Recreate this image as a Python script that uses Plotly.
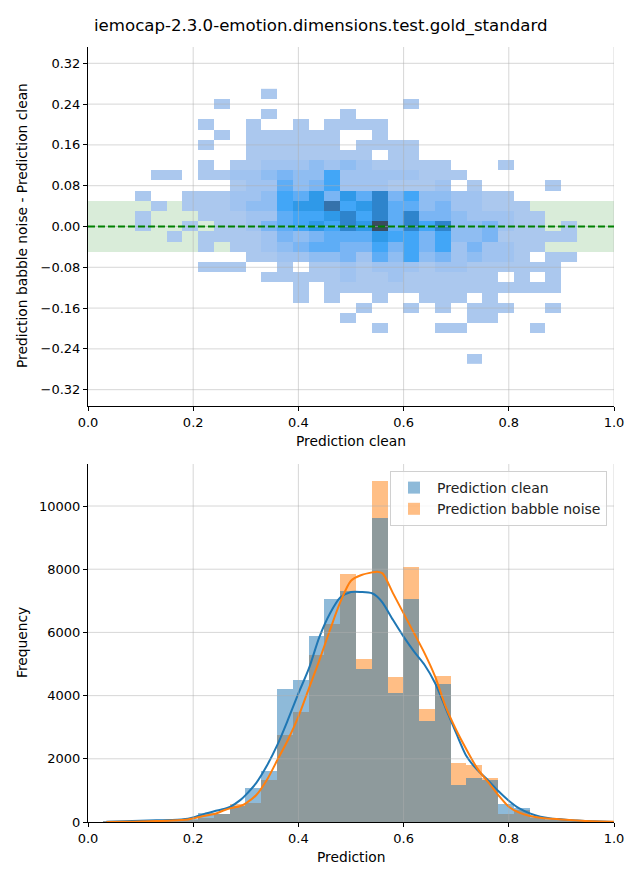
import plotly.graph_objects as go

TITLE = "iemocap-2.3.0-emotion.dimensions.test.gold_standard"

# ---------------- top panel: 2D histogram (difference vs clean) ----------------
hist2d_x_first_edge = 0.0894
hist2d_x_bin_width = 0.03
hist2d_y_centers = [0.26, 0.24, 0.22, 0.20, 0.18, 0.16, 0.14, 0.12, 0.10, 0.08, 0.06, 0.04, 0.02, 0.00,
                    -0.02, -0.04, -0.06, -0.08, -0.10, -0.12, -0.14, -0.16, -0.18, -0.20, -0.22, -0.24, -0.26]
# relative cell counts (0 = empty), columns = clean-prediction bins
hist2d_counts = [
    [0,0,0,0,0,0,0,0,1,0,0,0,0,0,0,0,0,0,0,0,0,0,0,0,0,0,0,0],
    [0,0,0,0,0,1,0,0,0,0,0,0,0,0,0,0,0,1,0,0,0,0,0,0,0,0,0,0],
    [0,0,0,0,0,0,0,0,1,0,0,0,0,1,0,0,0,0,0,0,0,0,0,0,0,0,0,0],
    [0,0,0,0,1,0,0,1,0,0,1,0,1,1,1,1,0,0,0,0,0,0,0,0,0,0,0,0],
    [0,0,0,0,0,1,0,1,1,1,1,1,1,0,0,1,0,0,0,0,0,0,0,0,0,0,0,0],
    [0,0,0,0,1,0,0,1,1,1,1,1,1,0,1,1,1,1,0,0,0,0,0,0,0,0,0,0],
    [0,0,0,0,0,0,0,1,1,1,1,1,1,1,1,0,1,1,0,0,0,0,0,0,0,0,0,0],
    [0,0,0,0,1,0,1,1,2,2,2,3,2,3,2,1,1,1,1,1,0,0,0,1,0,0,0,0],
    [0,1,1,0,1,1,2,2,3,4,3,3,6,2,2,2,2,2,1,1,1,0,0,0,0,0,0,0],
    [0,0,0,0,0,0,1,2,2,5,3,4,6,2,2,2,1,1,1,2,0,1,0,0,0,0,1,0],
    [1,0,0,1,1,1,2,2,3,6,5,7,4,7,5,8,4,6,3,3,2,2,1,1,0,0,0,0],
    [0,1,0,1,1,1,2,3,3,6,7,7,9,6,7,8,5,5,3,4,2,2,1,1,1,0,0,0],
    [1,0,0,0,1,1,1,2,2,5,6,6,7,8,6,8,5,8,4,4,3,2,2,2,1,1,0,0],
    [1,0,0,1,0,1,1,2,4,5,6,7,6,8,7,10,5,8,6,8,3,3,4,2,1,1,0,1],
    [0,0,1,0,1,1,1,1,2,4,3,4,5,5,5,7,6,6,4,6,3,3,4,1,1,1,1,1],
    [0,0,0,0,1,0,1,1,2,3,4,5,5,4,4,6,4,6,4,6,2,4,2,2,1,1,0,0],
    [0,0,0,0,0,0,0,1,1,2,2,3,3,4,2,5,3,6,3,4,2,3,2,2,1,0,1,1],
    [0,0,0,0,1,1,1,0,0,1,0,1,1,2,1,2,2,2,1,2,2,1,1,1,1,1,1,0],
    [0,0,0,0,0,0,0,0,1,1,1,1,1,2,1,1,2,1,1,1,1,1,1,0,1,0,1,0],
    [0,0,0,0,0,0,0,0,0,0,1,0,1,1,1,1,1,1,1,1,1,1,1,1,1,1,1,0],
    [0,0,0,0,0,0,0,0,0,0,1,0,1,0,0,1,0,0,1,1,1,0,1,0,0,0,0,0],
    [0,0,0,0,0,0,0,0,0,0,0,0,0,0,1,0,0,1,0,1,0,1,1,1,0,0,1,0],
    [0,0,0,0,0,0,0,0,0,0,0,0,0,1,0,0,0,0,0,0,0,1,1,0,0,0,0,0],
    [0,0,0,0,0,0,0,0,0,0,0,0,0,0,0,1,0,0,0,1,1,0,0,0,0,1,0,0],
    [0,0,0,0,0,0,0,0,0,0,0,0,0,0,0,0,0,0,0,0,0,0,0,0,0,0,0,0],
    [0,0,0,0,0,0,0,0,0,0,0,0,0,0,0,0,0,0,0,0,0,0,0,0,0,0,0,0],
    [0,0,0,0,0,0,0,0,0,0,0,0,0,0,0,0,0,0,0,0,0,1,0,0,0,0,0,0],
]
band_half_width = 0.05

# ---------------- bottom panel: histograms + KDE ----------------
hist_first_edge = 0.0294
hist_bin_width = 0.03
counts_clean = [3, 8, 15, 25, 35, 80, 290, 260, 500, 1070, 1610, 4220, 4490, 5890, 7060, 7310,
                4840, 9620, 4090, 7060, 3200, 4370, 1170, 1390, 1330, 570, 440, 150, 80, 40, 15, 5]
counts_babble = [2, 4, 10, 15, 25, 60, 120, 240, 560, 590, 1330, 2750, 3490, 5290, 6270, 7850,
                 5160, 10790, 4590, 8070, 3580, 4620, 1870, 1800, 1390, 250, 380, 140, 70, 35, 12, 5]

kde_x = [0.035, 0.07, 0.10, 0.13, 0.16, 0.19, 0.20, 0.22, 0.24, 0.26, 0.27, 0.29, 0.30, 0.32, 0.34,
         0.36, 0.38, 0.40, 0.42, 0.44, 0.46, 0.48, 0.50, 0.52, 0.54, 0.55, 0.56, 0.58, 0.60, 0.62,
         0.64, 0.66, 0.68, 0.70, 0.72, 0.74, 0.76, 0.78, 0.80, 0.82, 0.84, 0.86, 0.88, 0.90, 0.93,
         0.96, 1.00]
kde_clean = [5, 20, 40, 55, 60, 100, 140, 250, 340, 420, 480, 700, 860, 1240, 1780,
             2440, 3230, 4070, 4860, 5860, 6600, 7110, 7280, 7280, 7240, 7130, 6940, 6390, 5865, 5390,
             4970, 4390, 3600, 2810, 2070, 1650, 1330, 980, 675, 430, 275, 170, 115, 85, 45,
             20, 3]
kde_babble = [2, 8, 15, 30, 45, 80, 110, 190, 253, 380, 432, 506, 590, 854, 1329,
              1962, 2595, 3333, 4230, 5126, 6076, 6972, 7637, 7816, 7900, 7922, 7869, 7236, 6603, 5971,
              5338, 4599, 3650, 2911, 2279, 1698, 1276, 854, 485, 295, 190, 137, 105, 80, 45,
              20, 5]

x_ticks = [0.0, 0.2, 0.4, 0.6, 0.8, 1.0]
x_tick_labels = ["0.0", "0.2", "0.4", "0.6", "0.8", "1.0"]
top_y_ticks = [-0.32, -0.24, -0.16, -0.08, 0.0, 0.08, 0.16, 0.24, 0.32]
top_y_tick_labels = ["\u22120.32", "\u22120.24", "\u22120.16", "\u22120.08", "0.00", "0.08", "0.16", "0.24", "0.32"]
bottom_y_ticks = [0, 2000, 4000, 6000, 8000, 10000]
bottom_y_tick_labels = ["0", "2000", "4000", "6000", "8000", "10000"]

FONT = "DejaVu Sans"
W, H = 640, 880
GRID = "rgba(176,176,176,0.5)"
LABEL_SIZE = 13.8

fig = go.Figure()

# heatmap
z = [[c if c > 0 else None for c in row] for row in hist2d_counts]
x_centers = [hist2d_x_first_edge + hist2d_x_bin_width * (i + 0.5) for i in range(len(hist2d_counts[0]))]
colorscale = [
    [0.0, "#abc8ee"], [0.111, "#a0c3f0"], [0.222, "#8fbdf2"], [0.333, "#7ab5f4"],
    [0.444, "#5eadf6"], [0.556, "#42a6f7"], [0.667, "#2f99e8"], [0.778, "#2e84cc"],
    [0.889, "#3572ab"], [1.0, "#3a4b60"],
]
fig.add_trace(go.Heatmap(x=x_centers, y=hist2d_y_centers, z=z, colorscale=colorscale, zmin=1, zmax=10,
                         showscale=False, xaxis="x", yaxis="y", hoverongaps=False, showlegend=False))

# histograms
bar_centers = [hist_first_edge + hist_bin_width * (i + 0.5) for i in range(len(counts_clean))]
fig.add_trace(go.Bar(x=bar_centers, y=counts_babble, width=hist_bin_width, name="Prediction babble noise",
                     marker=dict(color="#ff7f0e", line=dict(width=0)), opacity=0.5,
                     xaxis="x2", yaxis="y2", legendrank=2))
fig.add_trace(go.Bar(x=bar_centers, y=counts_clean, width=hist_bin_width, name="Prediction clean",
                     marker=dict(color="#1f77b4", line=dict(width=0)), opacity=0.5,
                     xaxis="x2", yaxis="y2", legendrank=1))
fig.add_trace(go.Scatter(x=kde_x, y=kde_clean, mode="lines", line=dict(color="#1f77b4", width=2, shape="spline", smoothing=0.8),
                         xaxis="x2", yaxis="y2", showlegend=False))
fig.add_trace(go.Scatter(x=kde_x, y=kde_babble, mode="lines", line=dict(color="#ff7f0e", width=2, shape="spline", smoothing=0.8),
                         xaxis="x2", yaxis="y2", showlegend=False))

x_dom = [88 / W, 614 / W]
top_dom = [1 - 406 / H, 1 - 47 / H]
bot_dom = [1 - 822 / H, 1 - 464 / H]

axis_common = dict(ticks="outside", ticklen=4, tickwidth=1, tickcolor="black", showline=True,
                   linecolor="black", linewidth=1, showgrid=False, zeroline=False,
                   tickfont=dict(family=FONT, size=13, color="black"), automargin=False, fixedrange=True)

fig.update_layout(
    width=W, height=H, autosize=False,
    margin=dict(l=0, r=0, t=0, b=0),
    paper_bgcolor="white", plot_bgcolor="white",
    font=dict(family=FONT, size=13, color="black"),
    barmode="overlay", bargap=0,
    xaxis=dict(domain=x_dom, anchor="y", range=[0, 1], tickvals=x_ticks, ticktext=x_tick_labels, **axis_common),
    yaxis=dict(domain=top_dom, anchor="x", range=[-0.352, 0.352], tickvals=top_y_ticks, ticktext=top_y_tick_labels, **axis_common),
    xaxis2=dict(domain=x_dom, anchor="y2", range=[0, 1], tickvals=x_ticks, ticktext=x_tick_labels, **axis_common),
    yaxis2=dict(domain=bot_dom, anchor="x2", range=[0, 11330], tickvals=bottom_y_ticks, ticktext=bottom_y_tick_labels, **axis_common),
    legend=dict(x=607 / W, y=1 - 471 / H, xanchor="right", yanchor="top", itemwidth=36,
                bgcolor="rgba(255,255,255,0.8)", bordercolor="#d0d0d0", borderwidth=1,
                font=dict(family=FONT, size=14, color="#222")),
    showlegend=True,
)

shapes = []
# green tolerance band (below the cells)
shapes.append(dict(type="rect", xref="x domain", x0=0, x1=1, yref="y", y0=-band_half_width, y1=band_half_width,
                   fillcolor="rgba(0,128,0,0.15)", line=dict(width=0), layer="below"))
# grid lines drawn above the cells/bars (matplotlib style)
for xv in x_ticks[1:]:
    shapes.append(dict(type="line", xref="x", x0=xv, x1=xv, yref="y domain", y0=0, y1=1,
                       line=dict(color=GRID, width=1), layer="above"))
    shapes.append(dict(type="line", xref="x2", x0=xv, x1=xv, yref="y2 domain", y0=0, y1=1,
                       line=dict(color=GRID, width=1), layer="above"))
for yv in top_y_ticks:
    shapes.append(dict(type="line", xref="x domain", x0=0, x1=1, yref="y", y0=yv, y1=yv,
                       line=dict(color=GRID, width=1), layer="above"))
for yv in bottom_y_ticks[1:]:
    shapes.append(dict(type="line", xref="x2 domain", x0=0, x1=1, yref="y2", y0=yv, y1=yv,
                       line=dict(color=GRID, width=1), layer="above"))
# dashed zero line
shapes.append(dict(type="line", xref="x domain", x0=0, x1=1, yref="y", y0=0, y1=0,
                   line=dict(color="green", width=2, dash="7px,3px"), layer="above"))
fig.update_layout(shapes=shapes)

annotations = [
    dict(text=TITLE, x=0.5 + 0.5 / W, y=1 - 26 / H, xref="paper", yref="paper", xanchor="center", yanchor="middle",
         showarrow=False, font=dict(family=FONT, size=16.6, color="black")),
    dict(text="Prediction clean", x=351 / W, y=1 - 441 / H, xref="paper", yref="paper", xanchor="center", yanchor="middle",
         showarrow=False, font=dict(family=FONT, size=LABEL_SIZE, color="black")),
    dict(text="Prediction babble noise - Prediction clean", x=22 / W, y=1 - 226 / H, xref="paper", yref="paper",
         xanchor="center", yanchor="middle", textangle=-90, showarrow=False, font=dict(family=FONT, size=LABEL_SIZE, color="black")),
    dict(text="Prediction", x=351 / W, y=1 - 857 / H, xref="paper", yref="paper", xanchor="center", yanchor="middle",
         showarrow=False, font=dict(family=FONT, size=LABEL_SIZE, color="black")),
    dict(text="Frequency", x=22 / W, y=1 - 643 / H, xref="paper", yref="paper", xanchor="center", yanchor="middle",
         textangle=-90, showarrow=False, font=dict(family=FONT, size=LABEL_SIZE, color="black")),
]
fig.update_layout(annotations=annotations)

fig.write_html("out.html", config={"displayModeBar": False},
               post_script="document.body.style.margin='0px'; document.body.style.overflow='hidden';")
